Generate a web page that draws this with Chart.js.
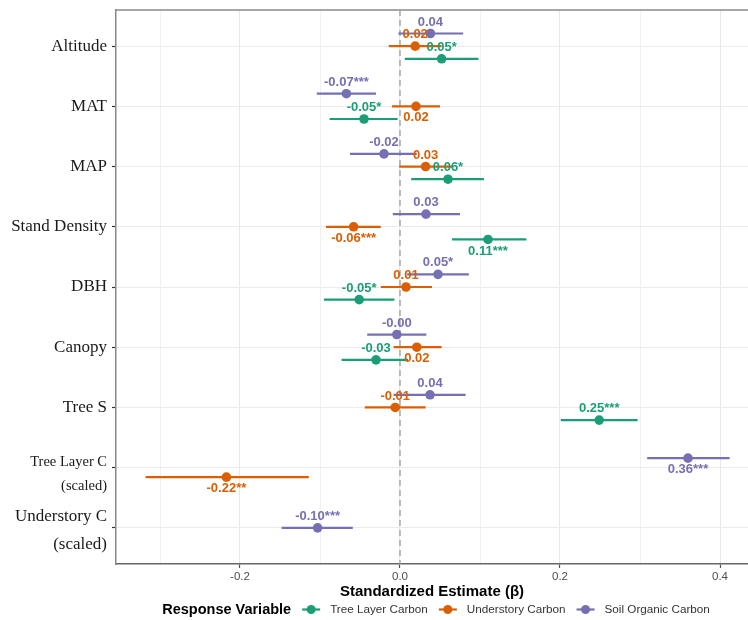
<!DOCTYPE html>
<html><head><meta charset="utf-8">
<script src="https://cdn.jsdelivr.net/npm/chart.js@4.4.1/dist/chart.umd.min.js"></script>
<style>html,body{margin:0;padding:0;background:#fff}</style>
</head><body>
<canvas id="c" width="748" height="620" style="display:block;width:748px;height:620px"></canvas>
<script>
// ---------- DATA ----------
const categories = ["Altitude","MAT","MAP","Stand Density","DBH","Canopy","Tree S",["Tree Layer C","(scaled)"],["Understory C","(scaled)"]];
const seriesNames = ["Tree Layer Carbon","Understory Carbon","Soil Organic Carbon"];
const seriesColors = ["#1B9E77","#D95F02","#7570B3"];

const treeEst = [0.052,-0.045,0.060,0.110,-0.051,-0.030,0.249,null,null];
const treeLo  = [0.006,-0.088,0.014,0.065,-0.095,-0.073,0.201,null,null];
const treeHi  = [0.098,-0.003,0.105,0.158,-0.007,0.010,0.297,null,null];
const treeLbl = ["0.05*","-0.05*","0.06*","0.11***","-0.05*","-0.03","0.25***",null,null];
const treeBelow = [false,false,false,true,false,false,false,false,false];

const underEst = [0.019,0.020,0.032,-0.058,0.0075,0.021,-0.006,-0.217,null];
const underLo  = [-0.014,-0.010,-0.001,-0.0925,-0.024,-0.008,-0.044,-0.318,null];
const underHi  = [0.052,0.050,0.065,-0.024,0.040,0.052,0.032,-0.114,null];
const underLbl = ["0.02","0.02","0.03","-0.06***","0.01","0.02","-0.01","-0.22**",null];
const underBelow = [false,true,false,true,false,true,false,true,false];

const soilEst = [0.038,-0.067,-0.020,0.0325,0.0475,-0.004,0.0375,0.360,-0.103];
const soilLo  = [-0.002,-0.104,-0.0625,-0.009,0.009,-0.041,-0.008,0.309,-0.148];
const soilHi  = [0.079,-0.030,0.021,0.075,0.086,0.033,0.082,0.412,-0.059];
const soilLbl = ["0.04","-0.07***","-0.02","0.03","0.05*","-0.00","0.04","0.36***","-0.10***"];
const soilBelow = [false,false,false,false,false,false,false,true,false];

const xMajorTicks = [-0.2,0.0,0.2,0.4];
const xMajorLabels = ["-0.2","0.0","0.2","0.4"];
const xMinorTicks = [-0.3,-0.1,0.1,0.3];

// ---------- BUILD ----------
const series = [
  {est:treeEst, lo:treeLo, hi:treeHi, lbl:treeLbl, below:treeBelow},
  {est:underEst, lo:underLo, hi:underHi, lbl:underLbl, below:underBelow},
  {est:soilEst, lo:soilLo, hi:soilHi, lbl:soilLbl, below:soilBelow}
];
const DODGE = 0.63;
const datasets = series.map((s, si) => {
  const data = [];
  categories.forEach((c, i) => {
    if (s.est[i] === null) return;
    const present = series.map((t, k) => t.est[i] !== null ? k : -1).filter(k => k >= 0);
    const n = present.length, rank = present.indexOf(si);
    const off = ((n - 1) / 2 - rank) * DODGE / n;
    data.push({x: s.est[i], y: i + 1 + off, lo: s.lo[i], hi: s.hi[i], lbl: s.lbl[i], below: s.below[i]});
  });
  return {label: seriesNames[si], data, backgroundColor: seriesColors[si], borderColor: seriesColors[si],
          pointRadius: 4.8, pointHoverRadius: 4.8, borderWidth: 0, pointBorderWidth: 0, showLine: false};
});

const SANS = "'Liberation Sans', Arial, sans-serif";
const SERIF = "'Liberation Serif', 'Times New Roman', serif";
const isMajor = v => xMajorTicks.some(m => Math.abs(m - v) < 1e-9);
const zeroPad = s => { s.paddingLeft = 0; s.paddingRight = 0; s.paddingTop = 0; s.paddingBottom = 0; };

const decor = {
  id: 'decor',
  beforeDraw(chart) {
    const items = chart.scales.y.getLabelItems();
    if (!items._shifted) {
      const shift = [0,0,0,0,0,0,0,7,3];
      items.forEach((it, i) => { if (shift[i]) it.options.translation[1] += shift[i]; });
      items._shifted = true;
    }
  },
  beforeDatasetsDraw(chart) {
    const {ctx, chartArea: a, scales: {x, y}} = chart;
    ctx.save();
    // top border
    ctx.strokeStyle = '#8a8a8a'; ctx.lineWidth = 1.5;
    ctx.beginPath(); ctx.moveTo(a.left, a.top); ctx.lineTo(a.right, a.top); ctx.stroke();
    ctx.beginPath(); ctx.rect(a.left, a.top, a.width, a.height); ctx.clip();
    // zero line
    const x0 = x.getPixelForValue(0);
    ctx.strokeStyle = '#a8a8a8'; ctx.lineWidth = 1.5; ctx.setLineDash([6, 4]);
    ctx.beginPath(); ctx.moveTo(x0, a.top); ctx.lineTo(x0, a.bottom); ctx.stroke();
    ctx.setLineDash([]);
    // error bars
    chart.data.datasets.forEach(ds => {
      ctx.strokeStyle = ds.borderColor; ctx.lineWidth = 2.2;
      ds.data.forEach(d => {
        const py = y.getPixelForValue(d.y);
        ctx.beginPath(); ctx.moveTo(x.getPixelForValue(d.lo), py); ctx.lineTo(x.getPixelForValue(d.hi), py); ctx.stroke();
      });
    });
    ctx.restore();
  },
  afterDatasetsDraw(chart) {
    const {ctx, scales: {x, y}} = chart;
    ctx.save();
    ctx.font = "bold 13px " + SANS; ctx.textAlign = 'center'; ctx.textBaseline = 'middle';
    chart.data.datasets.forEach(ds => {
      ctx.fillStyle = ds.borderColor;
      ds.data.forEach(d => {
        const px = x.getPixelForValue(d.x), py = y.getPixelForValue(d.y);
        ctx.fillText(d.lbl, px, py + (d.below ? 11.5 : -11.5));
      });
    });
    ctx.restore();
  },
  afterDraw(chart) {
    const ctx = chart.ctx;
    ctx.save();
    const cy = 609.5;
    ctx.textBaseline = 'middle'; ctx.textAlign = 'left';
    const titleFont = "bold 14.5px " + SANS, itemFont = "11.7px " + SANS;
    ctx.font = titleFont; const tw = ctx.measureText("Response Variable").width;
    ctx.font = itemFont; const iw = seriesNames.map(n => ctx.measureText(n).width);
    const SYM = 18, G1 = 11, G2 = 10;
    let total = tw; iw.forEach(w => total += G1 + SYM + G2 + w);
    let xx = 436 - total / 2;
    ctx.font = titleFont; ctx.fillStyle = '#000'; ctx.fillText("Response Variable", xx, cy); xx += tw;
    seriesNames.forEach((n, i) => {
      xx += G1;
      ctx.strokeStyle = seriesColors[i]; ctx.fillStyle = seriesColors[i]; ctx.lineWidth = 2.2;
      ctx.beginPath(); ctx.moveTo(xx, cy); ctx.lineTo(xx + SYM, cy); ctx.stroke();
      ctx.beginPath(); ctx.arc(xx + SYM / 2, cy, 4.5, 0, Math.PI * 2); ctx.fill();
      xx += SYM + G2;
      ctx.font = itemFont; ctx.fillStyle = '#333'; ctx.fillText(n, xx, cy); xx += iw[i];
    });
    ctx.restore();
  }
};

new Chart(document.getElementById('c'), {
  type: 'scatter',
  data: {datasets},
  plugins: [decor],
  options: {
    responsive: false, animation: false, devicePixelRatio: 1,
    layout: {autoPadding: false, padding: {top: 10, right: 0, bottom: 0, left: 0}},
    plugins: {legend: {display: false}, tooltip: {enabled: false}},
    scales: {
      x: {
        type: 'linear', position: 'bottom', min: -0.355, max: 0.435,
        afterBuildTicks: s => { s.ticks = [...xMinorTicks, ...xMajorTicks].sort((a, b) => a - b).map(v => ({value: v})); },
        afterFit: s => { s.height = 56; zeroPad(s); },
        ticks: {
          autoSkip: false, maxRotation: 0, padding: 2, color: '#4d4d4d',
          font: {family: SANS, size: 11.5},
          callback: v => { const k = xMajorTicks.findIndex(m => Math.abs(m - v) < 1e-9); return k >= 0 ? xMajorLabels[k] : ''; }
        },
        grid: {
          color: c => (c.tick && isMajor(c.tick.value)) ? '#e8e8e8' : '#f0f0f0',
          lineWidth: 1, tickLength: 4,
          tickColor: c => (c.tick && isMajor(c.tick.value)) ? '#555' : 'rgba(0,0,0,0)', tickWidth: 1.2
        },
        border: {color: '#666', width: 1.5},
        title: {display: true, text: 'Standardized Estimate (β)', color: '#000',
                font: {family: SANS, size: 15, weight: 'bold', lineHeight: 1.2}, padding: {top: 0, bottom: 19}}
      },
      y: {
        type: 'linear', position: 'left', reverse: true, min: 0.4, max: 9.6,
        afterBuildTicks: s => { s.ticks = categories.map((c, i) => ({value: i + 1})); },
        afterFit: s => { s.width = 116; zeroPad(s); },
        ticks: {
          autoSkip: false, padding: 5, color: '#1a1a1a',
          font: c => {
            if (c.index === 7) return {family: SERIF, size: 14.5, lineHeight: '24px'};
            if (c.index === 8) return {family: SERIF, size: 17, lineHeight: '28px'};
            return {family: SERIF, size: 17, lineHeight: 1.2};
          },
          callback: (v) => categories[Math.round(v) - 1]
        },
        grid: {color: '#ebebeb', lineWidth: 1, tickLength: 4, tickColor: '#333', tickWidth: 1.2},
        border: {color: '#888', width: 1.5}
      }
    }
  }
});
</script>
</body></html>
